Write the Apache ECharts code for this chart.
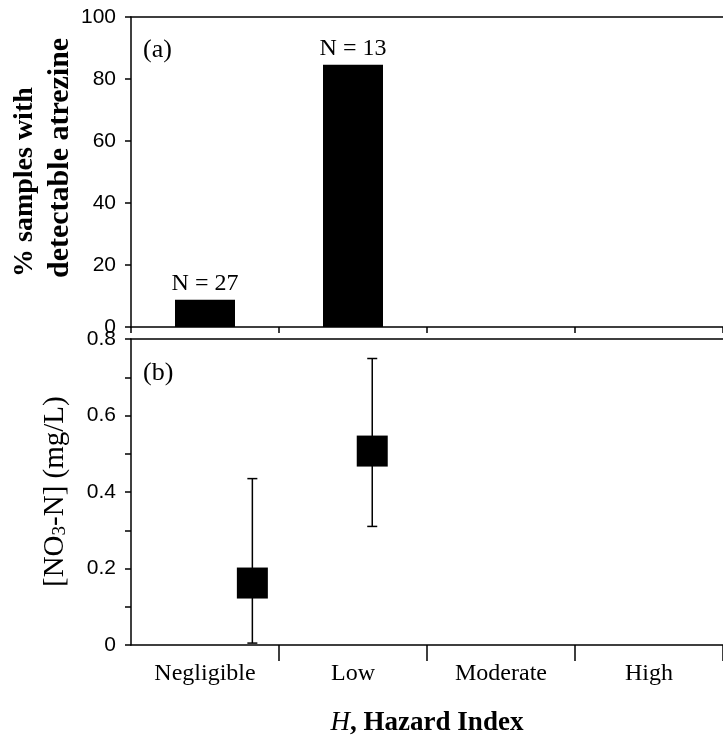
<!DOCTYPE html>
<html>
<head>
<meta charset="utf-8">
<script src="https://cdn.jsdelivr.net/npm/echarts@6/dist/echarts.min.js"></script>
<style>
html,body{margin:0;padding:0;background:#fff}
#main{width:723px;height:743px}
</style>
</head>
<body>
<div id="main"></div>
<script>
// hazard classes (shared by both panels)
var hazardClasses = ['Negligible', 'Low', 'Moderate', 'High'];
// (a) % samples with detectable atrazine, and sample counts
var atrazinePct = [8.8, 84.6, null, null];
var sampleN = [27, 13, null, null];
var pctTicks = [0, 20, 40, 60, 80, 100];
// (b) nitrate, position along hazard axis in class units
var nitrateX = [0.82, 1.63];
var nitrateMean = [0.162, 0.507];
var nitrateLow = [0.005, 0.31];
var nitrateHigh = [0.435, 0.749];
var nitrateTicks = [0, 0.2, 0.4, 0.6, 0.8];

var serif = 'Liberation Serif';
var sans = '"Liberation Sans Narrow", "Liberation Sans"';
var ink = '#000';
var lineW = 1.5;

function axisLn() {
    return {show: true, onZero: false, lineStyle: {color: ink, width: lineW}};
}

var errData = [], meanData = [];
for (var i = 0; i < nitrateX.length; i++) {
    errData.push([nitrateX[i], nitrateLow[i], nitrateHigh[i]]);
    meanData.push([nitrateX[i], nitrateMean[i]]);
}

var chart = echarts.init(document.getElementById('main'));
var option = {
    animation: false,
    backgroundColor: '#fff',
    grid: [
        {left: 131, top: 17, width: 594, height: 310},
        {left: 131, top: 339, width: 594, height: 306}
    ],
    xAxis: [
        {
            gridIndex: 0, type: 'category', data: hazardClasses, position: 'bottom',
            axisLine: axisLn(),
            axisTick: {
                show: true, length: 6, lineStyle: {color: ink, width: lineW},
                interval: function (idx) { return idx < hazardClasses.length; }
            },
            axisLabel: {show: false}
        },
        {
            gridIndex: 0, type: 'category', data: hazardClasses, position: 'top',
            axisLine: axisLn(), axisTick: {show: false}, axisLabel: {show: false}
        },
        {
            gridIndex: 1, type: 'category', data: hazardClasses, position: 'bottom',
            axisLine: axisLn(),
            axisTick: {
                show: true, length: 16, lineStyle: {color: ink, width: lineW},
                interval: function (idx) { return idx > 0 && idx < hazardClasses.length; }
            },
            axisLabel: {fontFamily: serif, fontSize: 24, color: ink, margin: 17}
        },
        {
            gridIndex: 1, type: 'category', data: hazardClasses, position: 'top',
            axisLine: axisLn(), axisTick: {show: false}, axisLabel: {show: false}
        },
        {
            gridIndex: 1, type: 'value', min: 0, max: hazardClasses.length, show: false
        }
    ],
    yAxis: [
        {
            gridIndex: 0, type: 'value',
            min: pctTicks[0], max: pctTicks[pctTicks.length - 1], interval: pctTicks[1] - pctTicks[0],
            axisLine: axisLn(),
            axisTick: {show: true, length: 6, lineStyle: {color: ink, width: lineW}},
            axisLabel: {fontFamily: sans, fontSize: 21, color: ink, margin: 15},
            splitLine: {show: false}
        },
        {
            gridIndex: 1, type: 'value',
            min: nitrateTicks[0], max: nitrateTicks[nitrateTicks.length - 1], interval: 0.2,
            axisLine: axisLn(),
            axisTick: {show: true, length: 6, lineStyle: {color: ink, width: lineW}},
            minorTick: {show: true, splitNumber: 2, length: 6, lineStyle: {color: ink, width: lineW}},
            axisLabel: {fontFamily: sans, fontSize: 21, color: ink, margin: 15},
            splitLine: {show: false}
        }
    ],
    series: [
        {
            type: 'bar', xAxisIndex: 0, yAxisIndex: 0,
            data: atrazinePct, barWidth: 60,
            itemStyle: {color: ink},
            label: {
                show: true, position: 'top', distance: 4,
                fontFamily: serif, fontSize: 24, color: ink,
                formatter: function (p) { return 'N = ' + sampleN[p.dataIndex]; }
            }
        },
        {
            type: 'custom', xAxisIndex: 4, yAxisIndex: 1,
            data: errData,
            encode: {x: 0, y: [1, 2]},
            renderItem: function (params, api) {
                var lo = api.coord([api.value(0), api.value(1)]);
                var hi = api.coord([api.value(0), api.value(2)]);
                var cw = 5;
                var st = {stroke: ink, lineWidth: lineW};
                return {
                    type: 'group',
                    children: [
                        {type: 'line', shape: {x1: lo[0], y1: lo[1], x2: hi[0], y2: hi[1]}, style: st},
                        {type: 'line', shape: {x1: lo[0] - cw, y1: lo[1], x2: lo[0] + cw, y2: lo[1]}, style: st},
                        {type: 'line', shape: {x1: hi[0] - cw, y1: hi[1], x2: hi[0] + cw, y2: hi[1]}, style: st}
                    ]
                };
            }
        },
        {
            type: 'scatter', xAxisIndex: 4, yAxisIndex: 1,
            data: meanData, symbol: 'rect', symbolSize: 31,
            itemStyle: {color: ink, opacity: 1}, z: 5
        }
    ],
    graphic: [
        {type: 'text', x: 143, y: 50, style: {text: '(a)', fontFamily: serif, fontSize: 26, fill: ink, align: 'left', verticalAlign: 'middle'}},
        {type: 'text', x: 143, y: 373, style: {text: '(b)', fontFamily: serif, fontSize: 26, fill: ink, align: 'left', verticalAlign: 'middle'}},
        {type: 'text', x: 25, y: 277, rotation: Math.PI / 2,
            style: {text: '% samples with', fontFamily: serif, fontWeight: 'bold', fontSize: 28, fill: ink, align: 'left', verticalAlign: 'middle'}},
        {type: 'text', x: 60, y: 278, rotation: Math.PI / 2,
            style: {text: 'detectable atrezine', fontFamily: serif, fontWeight: 'bold', fontSize: 30, fill: ink, align: 'left', verticalAlign: 'middle'}},
        {type: 'text', x: 55, y: 587, rotation: Math.PI / 2,
            style: {
                text: '[NO{sub|3}-N] (mg/L)', fontFamily: serif, fontSize: 29, fill: ink, align: 'left', verticalAlign: 'middle',
                rich: {sub: {fontFamily: serif, fontSize: 19, fill: ink, verticalAlign: 'bottom', padding: [9, 0, 0, 0]}}
            }},
        {type: 'text', x: 427, y: 723,
            style: {
                text: '{i|H}, Hazard Index', fontFamily: serif, fontWeight: 'bold', fontSize: 27, fill: ink, align: 'center', verticalAlign: 'middle',
                rich: {i: {fontFamily: serif, fontStyle: 'italic', fontWeight: 'normal', fontSize: 27, fill: ink}}
            }}
    ]
};
chart.setOption(option);
</script>
</body>
</html>
